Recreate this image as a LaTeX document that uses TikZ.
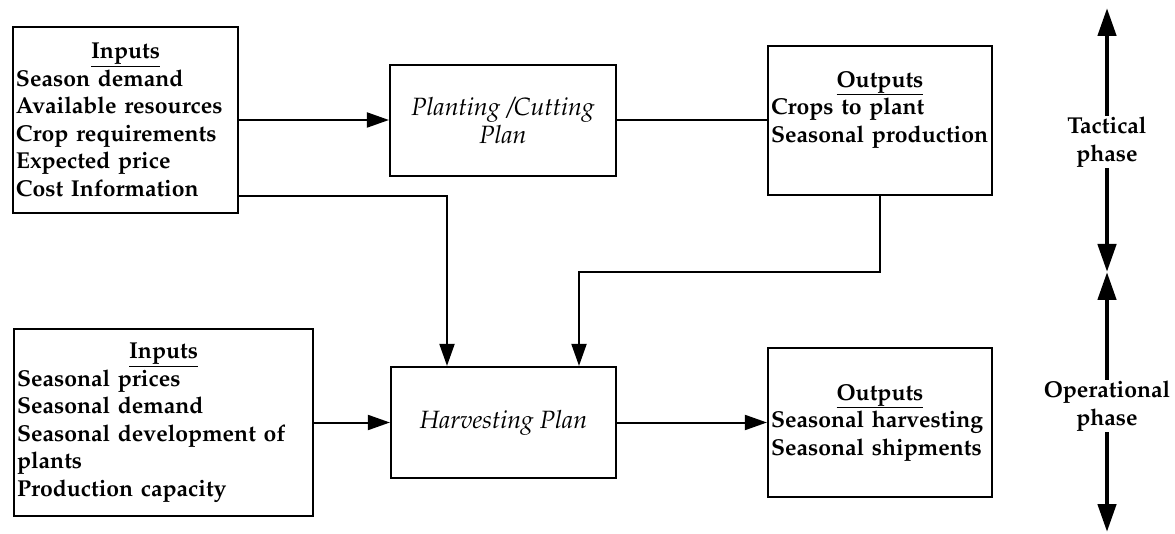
\documentclass[tikz,border=0pt]{standalone}
\usepackage[T1]{fontenc}
\renewcommand{\rmdefault}{ppl}
\usetikzlibrary{arrows.meta}
\tikzset{
  box/.style={draw, line width=2.2pt, inner xsep=3pt, inner ysep=0pt,
    font=\fontsize{23}{27.5}\selectfont\bfseries, align=left},
  plan/.style={draw, line width=2.2pt, inner sep=0pt, align=center,
    font=\fontsize{25}{27.5}\selectfont\itshape},
  conn/.style={line width=2pt, -{Triangle[length=22pt,width=15pt]}},
  plainconn/.style={line width=2pt},
  phase/.style={line width=4.5pt, -{Triangle[length=28pt,width=18pt]}},
  phaselbl/.style={inner sep=1pt, align=center,
    font=\fontsize{23}{27.5}\selectfont\bfseries}
}
\hyphenpenalty=10000
\exhyphenpenalty=10000
\newcommand{\hdr}[1]{\makebox[\linewidth][c]{\underline{#1}}}
\begin{document}
\begin{tikzpicture}[x=1pt,y=-1pt]
\useasboundingbox (0,0) rectangle (1175,534);
% boxes
\node[box, minimum width=225pt, minimum height=186pt, text width=219pt] (in1) at (125.5,120)
  {\hdr{Inputs}\\Season demand\\Available resources\\Crop requirements\\Expected price\\Cost Information};
\node[plan, minimum width=226pt, minimum height=111pt] (plant) at (503,120.5)
  {Planting /Cutting\\Plan};
\node[box, minimum width=224pt, minimum height=149pt, text width=218pt] (out1) at (880,120.5)
  {\hdr{Outputs}\\Crops to plant\\Seasonal production\\\mbox{}};
\node[box, minimum width=299pt, minimum height=187pt, text width=293pt] (in2) at (163.5,422.5)
  {\hdr{Inputs}\\Seasonal prices\\Seasonal demand\\Seasonal development of\\plants\\Production capacity};
\node[plan, minimum width=225pt, minimum height=111pt] (harv) at (503.5,422.5)
  {Harvesting Plan};
\node[box, minimum width=224pt, minimum height=149pt, text width=218pt] (out2) at (880,422.5)
  {\hdr{Outputs}\\Seasonal harvesting\\Seasonal shipments};
% connectors
\draw[conn] (in1.east) -- (in1.east -| plant.west);
\draw[plainconn] (plant.east) -- (plant.east -| out1.west);
\coordinate (k0) at (447,196);
\draw[conn] (in1.east |- k0) -- (k0) -- (k0 |- harv.north);
\coordinate (k1) at (579,272);
\draw[conn] (out1.south) |- (k1) -- (k1 |- harv.north);
\draw[conn] (in2.east) -- (in2.east -| harv.west);
\draw[conn] (harv.east) -- (harv.east -| out2.west);
% phases
\node[phaselbl] (tac) at (1107,142) {Tactical\\phase};
\coordinate (tacTop) at (1107,8);
\coordinate (mid) at (1107,272);
\draw[phase] (tac.north) -- (tacTop);
\draw[phase] (tac.south) -- (mid);
\node[phaselbl] (opr) at (1107,406) {Operational\\phase};
\coordinate (oprBot) at (1107,532);
\draw[phase] (opr.north) -- (mid);
\draw[phase] (opr.south) -- (oprBot);
\end{tikzpicture}
\end{document}
